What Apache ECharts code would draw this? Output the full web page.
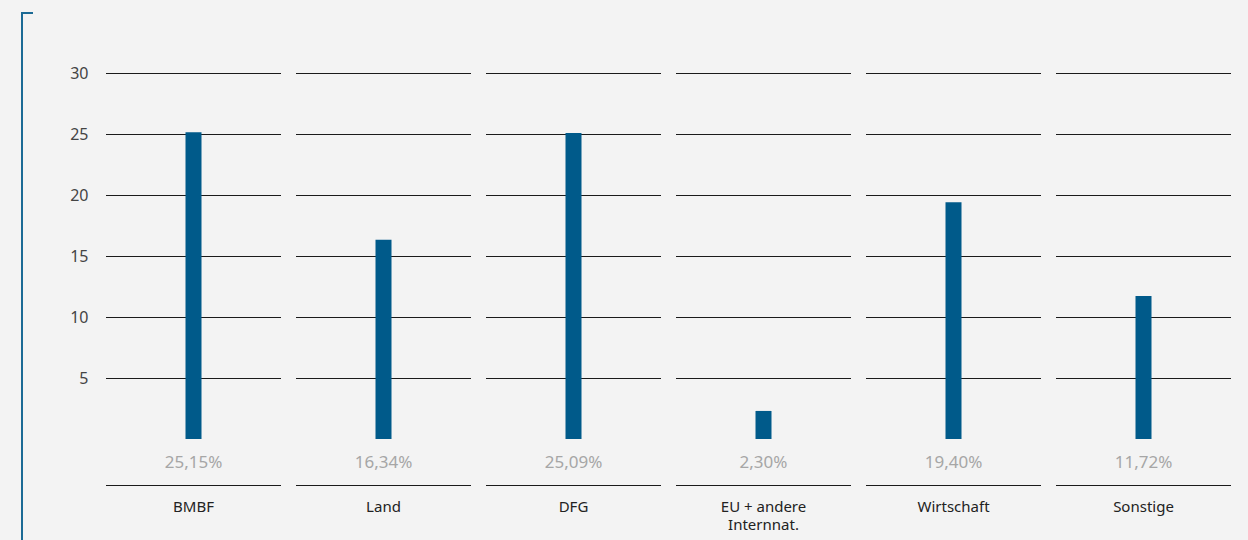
<!DOCTYPE html>
<html><head><meta charset="utf-8">
<script src="https://cdn.jsdelivr.net/npm/echarts@6/dist/echarts.min.js"></script>
<style>html,body{margin:0;padding:0;background:#f3f3f3;}#c{width:1248px;height:540px;}</style>
</head><body><div id="c"></div>
<script>
const categories = ['BMBF', 'Land', 'DFG', 'EU + andere\nInternnat.', 'Wirtschaft', 'Sonstige'];
const values = [25.15, 16.34, 25.09, 2.30, 19.40, 11.72];
const valueLabels = ['25,15%', '16,34%', '25,09%', '2,30%', '19,40%', '11,72%'];
const yTicks = [5, 10, 15, 20, 25, 30];

const chart = echarts.init(document.getElementById('c'), null, {renderer: 'svg'});
chart.setOption({
  backgroundColor: '#f3f3f3',
  animation: false,
  grid: {left: 98.5, right: 9.5, top: 73, bottom: 101},
  xAxis: {
    type: 'category', data: categories,
    axisLine: {show: false}, axisTick: {show: false},
    axisLabel: {margin: 58, color: '#222', fontSize: 15, lineHeight: 18, fontFamily: 'Noto Sans'}
  },
  yAxis: {
    type: 'value', min: 0, max: 30, interval: 5,
    splitLine: {show: false}, axisLine: {show: false}, axisTick: {show: false},
    axisLabel: {showMinLabel: false, margin: 10, color: '#444', fontSize: 16, fontFamily: 'Noto Sans'}
  },
  graphic: [
    {type: 'polyline', shape: {points: [[33, 13], [22, 13], [22, 540]]},
     style: {stroke: '#1b6a95', lineWidth: 2, fill: null}}
  ],
  series: [
    {
      type: 'custom', z: 1, silent: true,
      data: categories.map((c, i) => i),
      renderItem: function (params, api) {
        const idx = api.value(0);
        const band = api.size([1, 0])[0];
        const half = (band - 15) / 2;
        const children = [];
        yTicks.forEach(t => {
          const p = api.coord([idx, t]);
          const y = Math.round(p[1]) + 0.5;
          children.push({type: 'line', shape: {x1: p[0] - half, y1: y, x2: p[0] + half, y2: y},
            style: {stroke: '#1a1a1a', lineWidth: 1}});
        });
        const p0 = api.coord([idx, 0]);
        const yb = Math.round(p0[1]) + 46.5;
        children.push({type: 'line', shape: {x1: p0[0] - half, y1: yb, x2: p0[0] + half, y2: yb},
          style: {stroke: '#1a1a1a', lineWidth: 1}});
        return {type: 'group', children: children};
      }
    },
    {
      type: 'bar', z: 2, data: values, barWidth: 16,
      itemStyle: {color: '#005a8a'},
      label: {show: true, position: 'bottom', distance: 14, color: '#a6a6a6', fontSize: 17,
        fontFamily: 'Noto Sans',
        formatter: p => valueLabels[p.dataIndex]}
    }
  ]
});
</script></body></html>
